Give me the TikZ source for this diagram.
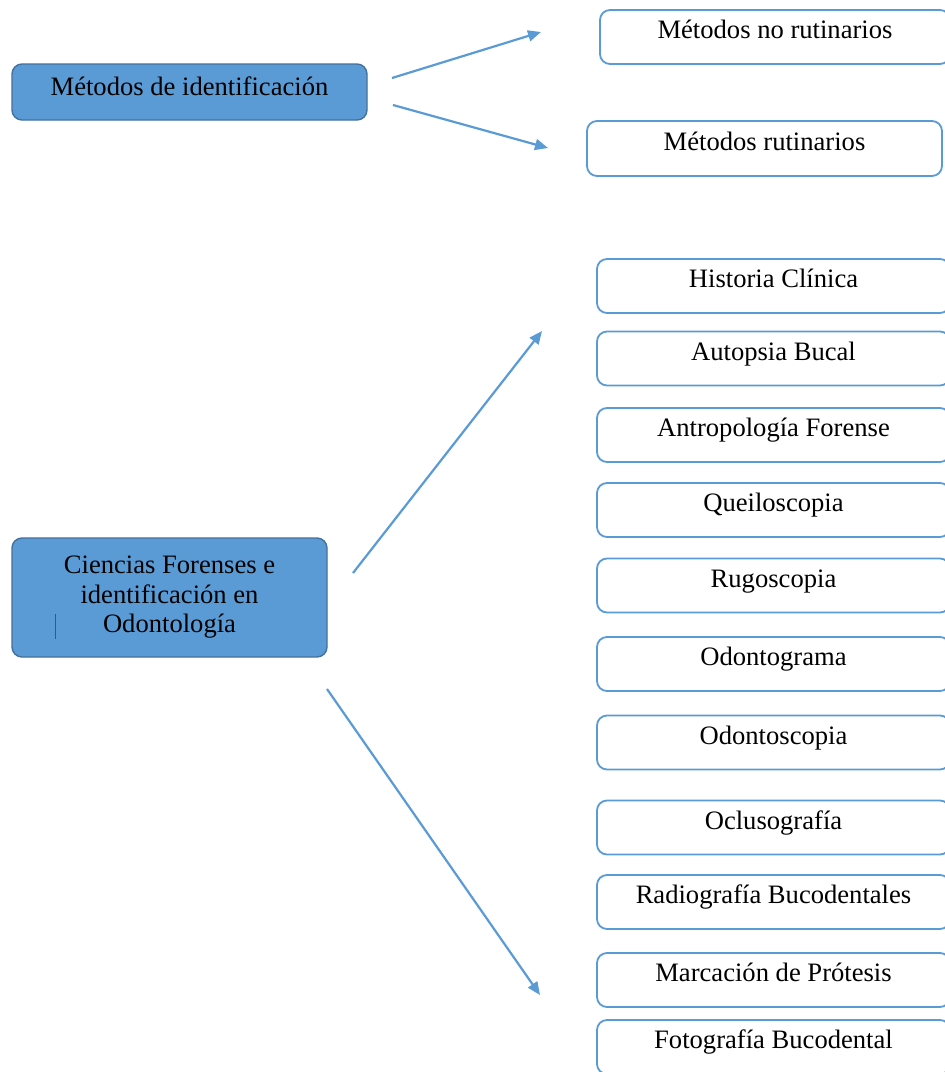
\documentclass[tikz,border=0pt]{standalone}
\usepackage{fontspec}
\setmainfont{Liberation Serif}
\usetikzlibrary{arrows.meta}
\definecolor{fillblue}{HTML}{5B9BD5}
\definecolor{edgeblue}{HTML}{41719C}
\definecolor{lineblue}{HTML}{5B9BD5}
\begin{document}
\begin{tikzpicture}[x=1pt,y=-1pt,
  every node/.style={font=\fontsize{26.6}{29.5}\selectfont, text=black},
  mainbox/.style={draw=edgeblue, fill=fillblue, line width=1.4pt, rounded corners=10pt, inner sep=0pt},
  itembox/.style={draw=lineblue, fill=white, line width=1.8pt, rounded corners=10pt, inner xsep=0pt, inner ysep=0pt,
                  text height=28.5pt, text depth=25.5pt},
  conn/.style={draw=lineblue, line width=2.2pt, -{Triangle[length=13pt,width=11pt]}}
]
\clip (0,0) rectangle (945,1072);
\fill[white] (0,0) rectangle (945,1072);

% left main boxes
\node[mainbox, minimum width=355pt, minimum height=56pt, text height=31.5pt, text depth=24.5pt] (mid) at (189.5,92) {Métodos de identificación};
\node[mainbox, minimum width=315pt, minimum height=119pt, align=center] (cfo) at (169.5,597.5)
  {Ciencias Forenses e\\identificación en\\Odontología};
\draw[edgeblue!80!black, line width=0.7pt] (55,614) -- (55,639);

% top right
\node[itembox, minimum width=350pt, minimum height=54pt] (nrut) at (775,37) {Métodos no rutinarios};
\node[itembox, minimum width=355pt, minimum height=55pt] (rut) at (764.5,148.5) {Métodos rutinarios};

% list
\node[itembox, minimum width=353pt, minimum height=54pt] (hc)  at (773.5,286) {Historia Clínica};
\node[itembox, minimum width=353pt, minimum height=54pt] (ab)  at (773.5,358.5) {Autopsia Bucal};
\node[itembox, minimum width=353pt, minimum height=54pt] (af)  at (773.5,435) {Antropología Forense};
\node[itembox, minimum width=353pt, minimum height=54pt] (qu)  at (773.5,510) {Queiloscopia};
\node[itembox, minimum width=353pt, minimum height=54pt] (ru)  at (773.5,585.5) {Rugoscopia};
\node[itembox, minimum width=353pt, minimum height=54pt] (og)  at (773.5,664) {Odontograma};
\node[itembox, minimum width=353pt, minimum height=54pt] (os)  at (773.5,742.5) {Odontoscopia};
\node[itembox, minimum width=353pt, minimum height=54pt] (oc)  at (773.5,827.5) {Oclusografía};
\node[itembox, minimum width=353pt, minimum height=54pt] (rb)  at (773.5,902) {Radiografía Bucodentales};
\node[itembox, minimum width=353pt, minimum height=54pt] (mp)  at (773.5,980) {Marcación de Prótesis};
\node[itembox, minimum width=353pt, minimum height=54pt] (fb)  at (773.5,1047) {Fotografía Bucodental};

% connector end points
\coordinate (a1s) at (392,78);
\coordinate (a1e) at (541,32);
\coordinate (a2s) at (393,105);
\coordinate (a2e) at (548,148);
\coordinate (a3s) at (353,573);
\coordinate (a3e) at (542,331);
\coordinate (a4s) at (327,689);
\coordinate (a4e) at (540,995);

\draw[conn] (a1s) -- (a1e);
\draw[conn] (a2s) -- (a2e);
\draw[conn] (a3s) -- (a3e);
\draw[conn] (a4s) -- (a4e);
\end{tikzpicture}
\end{document}
